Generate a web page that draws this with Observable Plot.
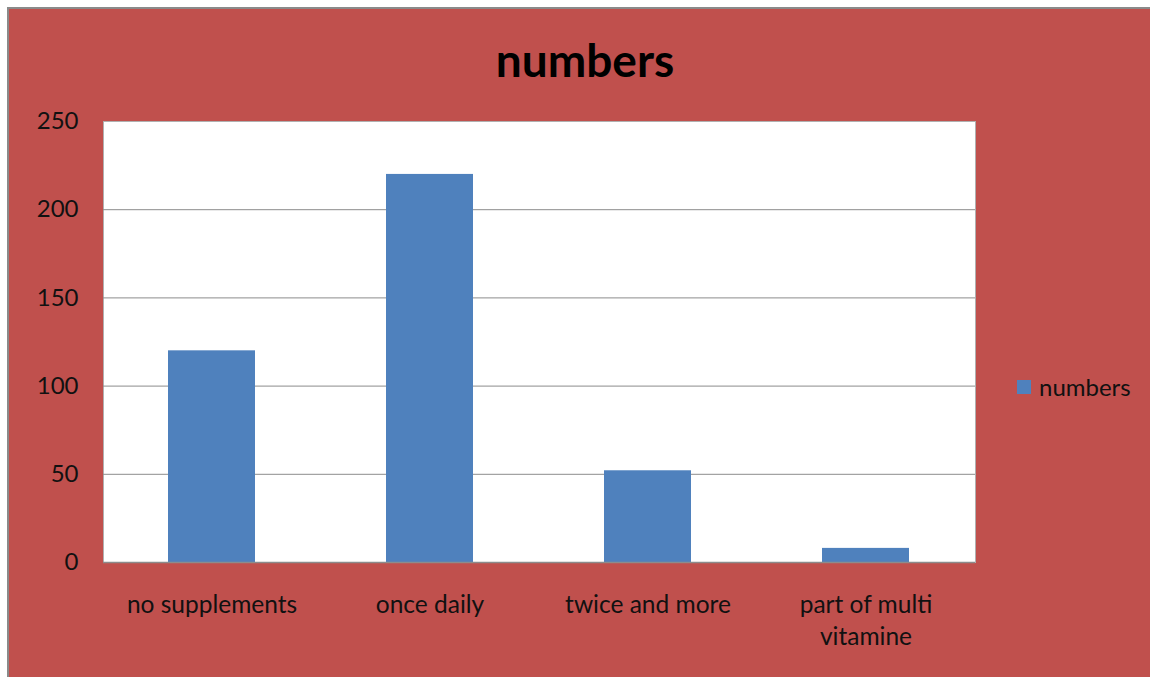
<!DOCTYPE html>
<html>
<head>
<meta charset="utf-8">
<script src="https://cdn.jsdelivr.net/npm/d3@7"></script>
<script src="https://cdn.jsdelivr.net/npm/@observablehq/plot@0.6"></script>
<style>
  html, body { margin: 0; padding: 0; background: #ffffff; width: 1150px; height: 677px; overflow: hidden; }
  #frame { position: absolute; left: 7px; top: 7px; width: 1143px; height: 670px;
           background: #C0504D; border-top: 2px solid #8a8a8a; border-left: 2px solid #8a8a8a; box-sizing: border-box; }
  #title { position: absolute; left: 0; width: 1170px; top: 32px; text-align: center;
           font: bold 46px Lato, sans-serif; color: #000; }
  #legend { position: absolute; left: 1017px; top: 372px; font: 24px Lato, sans-serif; color: #111; display: flex; align-items: center; }
  #legend .sw { width: 14px; height: 14px; background: #4F81BD; margin-right: 8px; }
  #chart { position: absolute; left: 0; top: 0; }
</style>
</head>
<body>
<div id="frame"></div>
<div id="title">numbers</div>
<div id="legend"><div class="sw"></div><span id="legendText"></span></div>
<div id="chart"></div>
<script>
const categories = ["no supplements", "once daily", "twice and more", "part of multi vitamine"];
const categoryLabels = ["no supplements", "once daily", "twice and more", "part of multi\nvitamine"];
const values = [120, 220, 52, 8];
const yTicks = [0, 50, 100, 150, 200, 250];
const seriesName = "numbers";

document.getElementById("legendText").textContent = seriesName;

const data = categories.map((c, i) => ({category: c, value: values[i], label: categoryLabels[i]}));

const W = 1150, H = 677;
const plot = Plot.plot({
  width: W,
  height: H,
  marginLeft: 103,
  marginRight: W - 975,
  marginTop: 121,
  marginBottom: H - 562,
  style: {background: "transparent", fontFamily: "Lato, sans-serif", overflow: "visible"},
  x: {domain: categories, paddingInner: 0.6, paddingOuter: 0.3, align: 0.5, axis: null},
  y: {domain: [0, 250], axis: null},
  marks: [
    Plot.frame({fill: "#ffffff", stroke: "#b0b0b0", strokeWidth: 1}),
    Plot.gridY(yTicks.filter(d => d > 0 && d < 250), {stroke: "#8c8c8c", strokeOpacity: 1, strokeWidth: 1}),
    Plot.barY(data, {x: "category", y: "value", fill: "#4F81BD"}),
    Plot.ruleY([0], {stroke: "#8c8c8c", strokeWidth: 1.5}),
    Plot.text(yTicks, {y: d => d, frameAnchor: "left", textAnchor: "end", dx: -25, text: d => String(d),
      fontSize: 24, fill: "#111"}),
    Plot.text(data, {x: "category", text: "label", frameAnchor: "bottom", lineAnchor: "top", dy: 28,
      fontSize: 24.5, lineHeight: 1.3, fill: "#111"})
  ]
});
document.getElementById("chart").appendChild(plot);
</script>
</body>
</html>
